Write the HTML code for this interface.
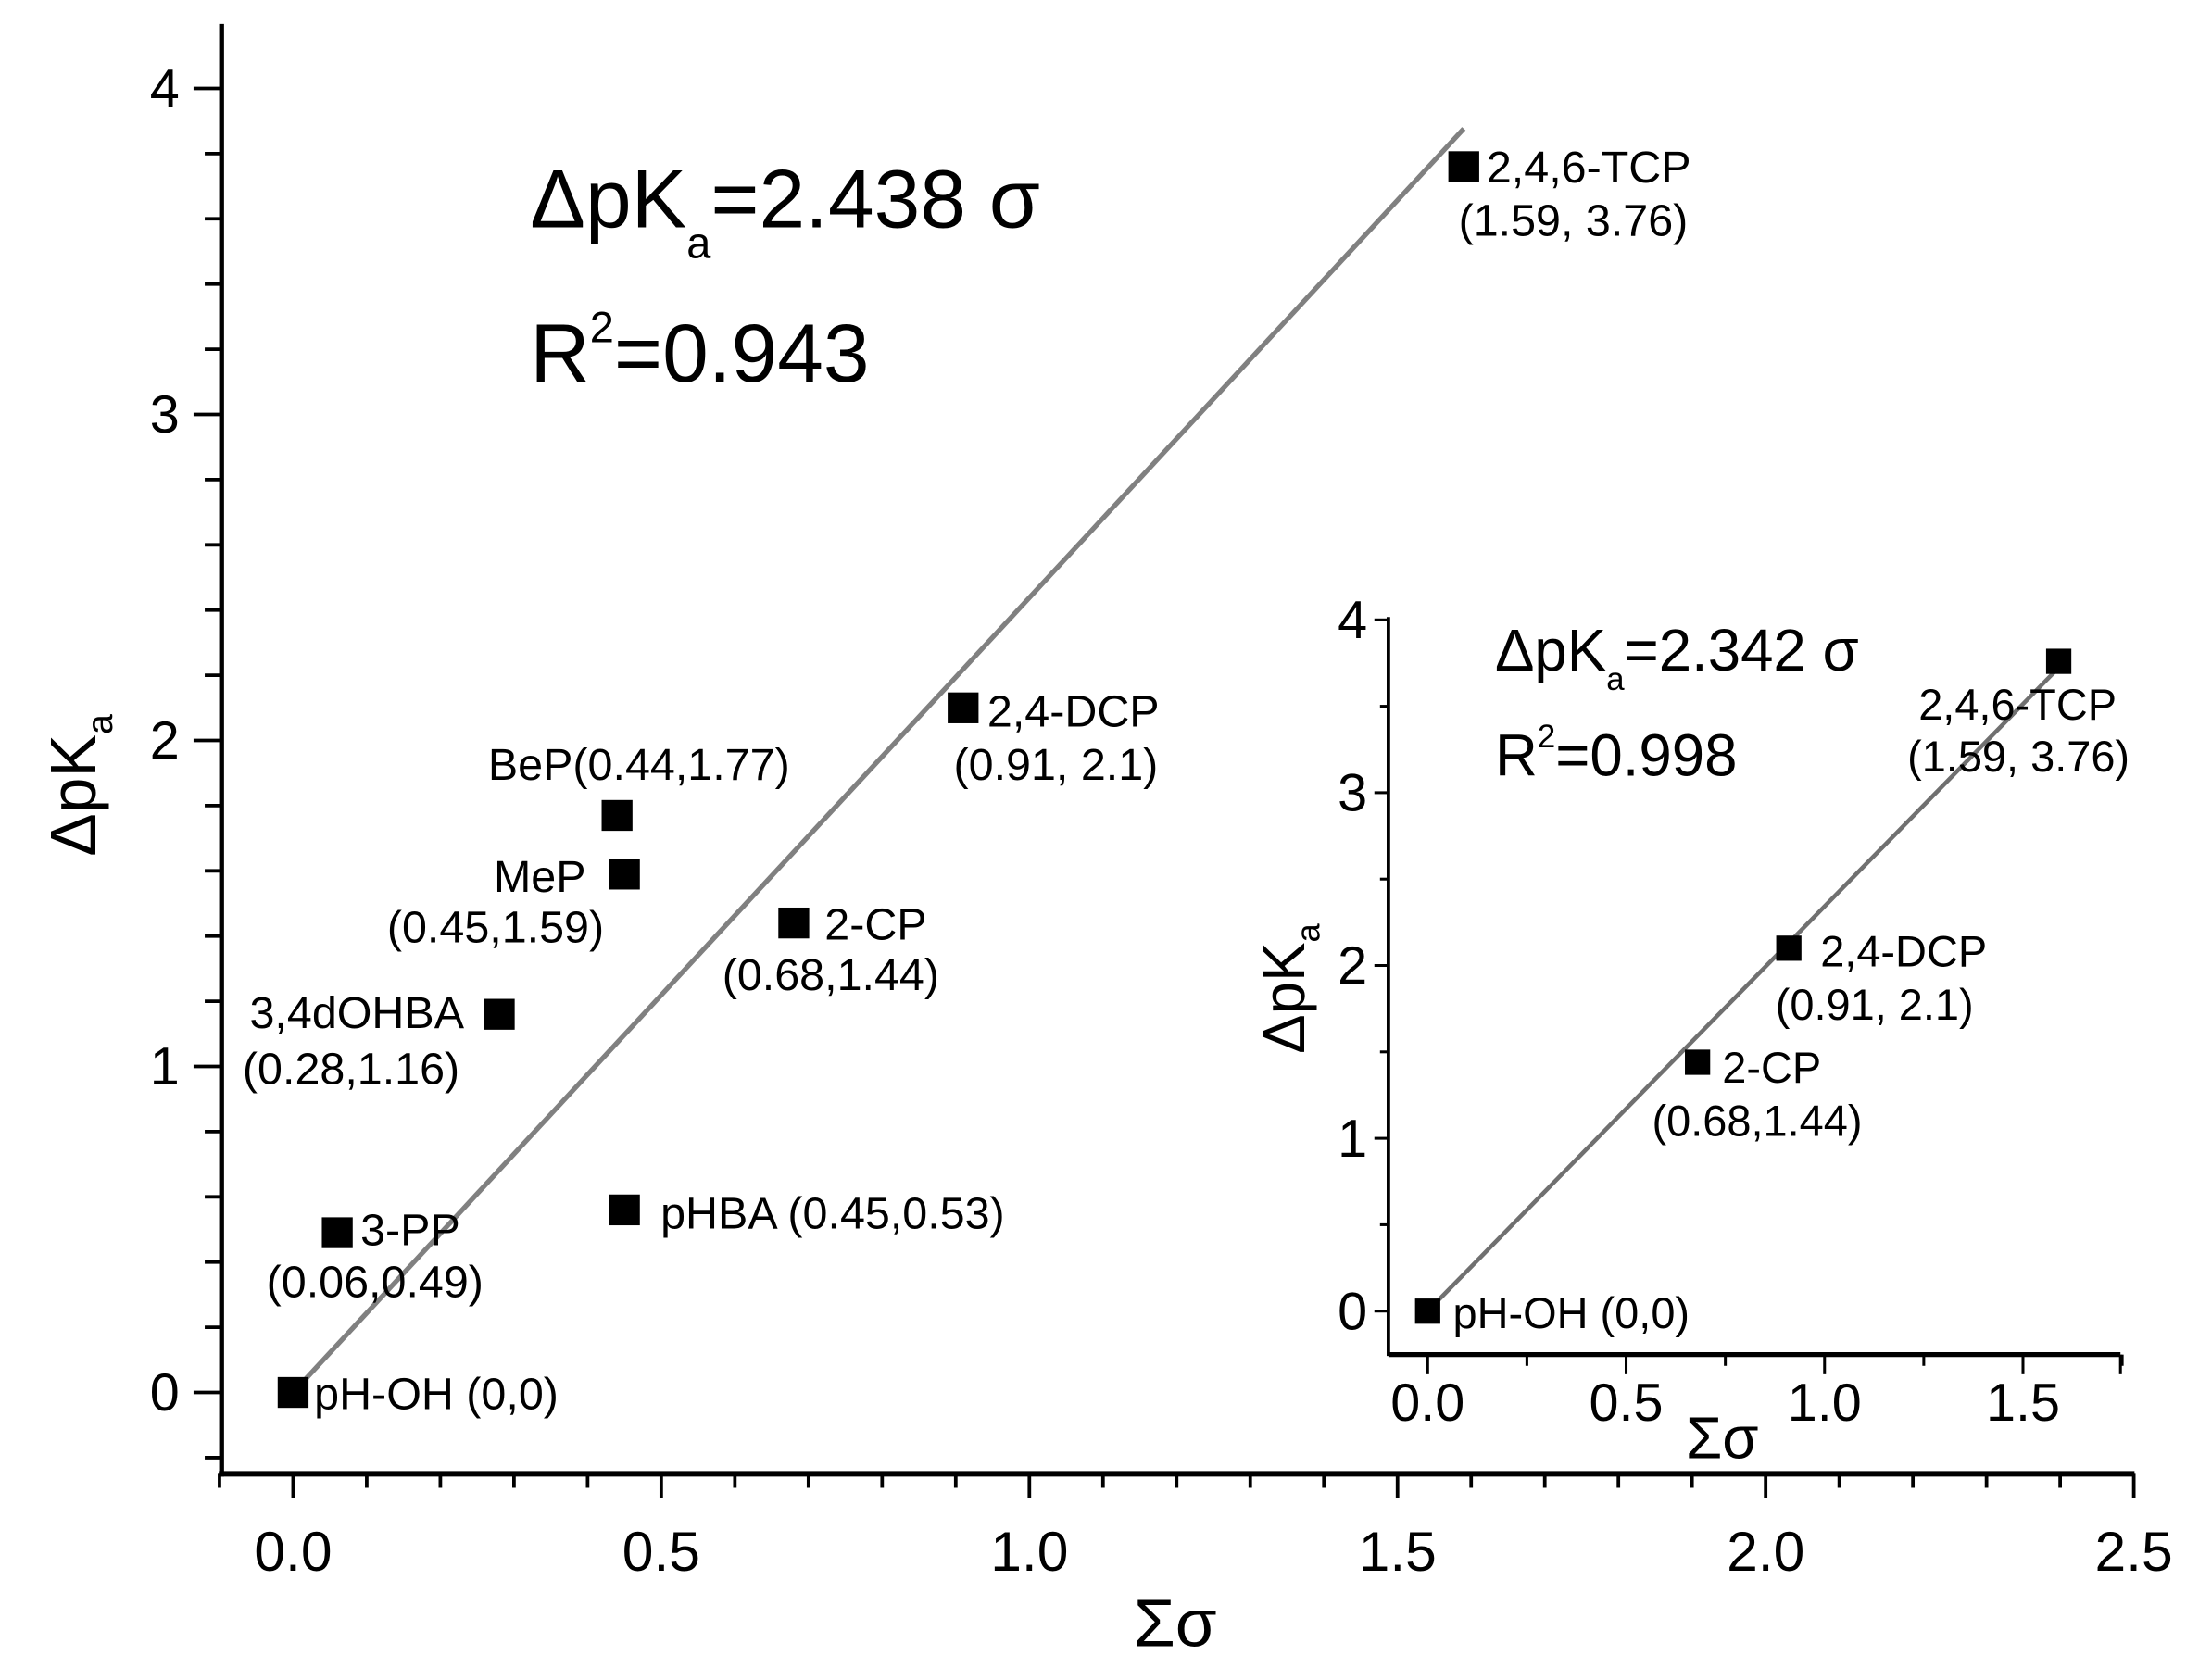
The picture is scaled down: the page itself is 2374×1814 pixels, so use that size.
<!DOCTYPE html>
<html><head><meta charset="utf-8"><style>
html,body{margin:0;padding:0;background:#fff;}
svg{display:block;}
text{font-family:"Liberation Sans",Arial,sans-serif;fill:#000;}
</style></head><body>
<svg id="s" width="2374" height="1814" viewBox="0 0 1568 1198" xmlns="http://www.w3.org/2000/svg">
<g id="g"></g>
<text x="378" y="162" font-size="59">ΔpK<tspan font-size="31" dy="22">a</tspan><tspan dy="-22">=2.438 σ</tspan></text>
<text x="378" y="272" font-size="59">R<tspan font-size="31" dy="-28">2</tspan><tspan dy="28">=0.943</tspan></text>
<g font-size="32">
<text x="1060" y="130">2,4,6-TCP</text><text x="1040" y="168">(1.59, 3.76)</text>
<text x="704" y="518">2,4-DCP</text><text x="680" y="556">(0.91, 2.1)</text>
<text x="348" y="556">BeP(0.44,1.77)</text>
<text x="352" y="636">MeP</text><text x="276" y="672">(0.45,1.59)</text>
<text x="588" y="670">2-CP</text><text x="515" y="706">(0.68,1.44)</text>
<text x="178" y="733">3,4dOHBA</text><text x="173" y="773">(0.28,1.16)</text>
<text x="257" y="888">3-PP</text><text x="190" y="925">(0.06,0.49)</text>
<text x="471" y="876">pHBA (0.45,0.53)</text>
<text x="224" y="1005">pH-OH (0,0)</text>
</g>
<text x="838" y="1174" font-size="48" text-anchor="middle">Σσ</text>
<text transform="translate(68,560) rotate(-90)" font-size="46" text-anchor="middle">ΔpK<tspan font-size="26" dy="12">a</tspan></text>
<text x="1066" y="478" font-size="42">ΔpK<tspan font-size="23" dy="14">a</tspan><tspan dy="-14">=2.342 σ</tspan></text>
<text x="1066" y="553" font-size="42">R<tspan font-size="23" dy="-20">2</tspan><tspan dy="20">=0.998</tspan></text>
<g font-size="31">
<text x="1368" y="513">2,4,6-TCP</text><text x="1360" y="550">(1.59, 3.76)</text>
<text x="1298" y="689">2,4-DCP</text><text x="1266" y="727">(0.91, 2.1)</text>
<text x="1228" y="772">2-CP</text><text x="1178" y="810">(0.68,1.44)</text>
<text x="1036" y="947">pH-OH (0,0)</text>
</g>
<text x="1228" y="1040" font-size="42" text-anchor="middle">Σσ</text>
<text transform="translate(930,705) rotate(-90)" font-size="42" text-anchor="middle">ΔpK<tspan font-size="24" dy="11">a</tspan></text>
</svg>
<script>
var g=document.getElementById('g'),NS='http://www.w3.org/2000/svg';
function el(t,a,txt){var e=document.createElementNS(NS,t);for(var k in a)e.setAttribute(k,a[k]);if(txt!=null)e.textContent=txt;g.appendChild(e);return e;}
function line(x1,y1,x2,y2,w,c){el('line',{x1:x1,y1:y1,x2:x2,y2:y2,stroke:c||'#000','stroke-width':w||2});}
var X=function(v){return 209+525*v},Y=function(v){return 993-232.5*v};
line(156,1051,1522,1051,4);line(158,17,158,1053,3.5);
for(var i=-1;i<=25;i++){var x=X(i/10);var maj=(i%5==0);line(x,1051,x,1051+(maj?17:10),2.5);
 if(maj&&i>=0)el('text',{x:x,y:1120,'font-size':40,'text-anchor':'middle'},(i/10).toFixed(1));}
for(var j=-1;j<=21;j++){var y=Y(j/5);if(y<17||y>1051)continue;var maj=(j%5==0);line(158,y,158-(maj?20:12),y,2.5);
 if(maj)el('text',{x:128,y:y+13,'font-size':38,'text-anchor':'end'},String(j/5));}
line(X(0),Y(0),X(1.59),Y(1.59*2.438),3.5,'#808080');
[[0,0],[0.06,0.49],[0.44,1.77],[0.45,1.59],[0.28,1.16],[0.68,1.44],[0.91,2.1],[1.59,3.76],[0.45,0.56]].forEach(function(p){
 el('rect',{x:X(p[0])-11,y:Y(p[1])-11,width:22,height:22,fill:'#000'});});
var x2=function(v){return 1018+283*v},y2=function(v){return 935-123.25*v};
line(990,966,1512,966,3.5);line(990,440,990,967,2.5);
for(var i=-1;i<=7;i++){var x=x2(i/4);if(x<990)continue;var maj=(i%2==0);line(x,966,x,966+(maj?14:8),2);
 if(maj)el('text',{x:x,y:1013,'font-size':38,'text-anchor':'middle'},(i/4).toFixed(1));}
line(1512,966,1512,980,2);
for(var j=0;j<=8;j++){var y=y2(j/2);var maj=(j%2==0);line(990,y,990-(maj?10:6),y,2);
 if(maj)el('text',{x:975,y:y+13,'font-size':38,'text-anchor':'end'},String(j/2));}
line(x2(0),y2(0),x2(1.59),y2(1.59*2.342),3,'#707070');
[[0,0],[0.68,1.44],[0.91,2.1],[1.59,3.76]].forEach(function(p){
 el('rect',{x:x2(p[0])-9,y:y2(p[1])-9,width:18,height:18,fill:'#000'});});
</script>
</body></html>
